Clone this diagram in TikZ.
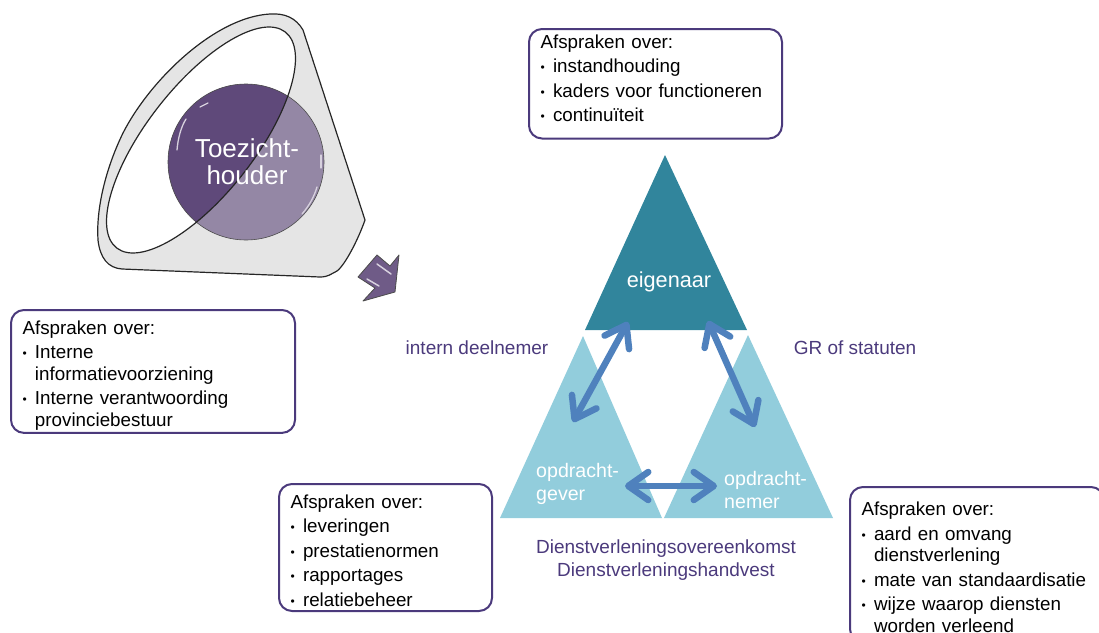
\documentclass[tikz,border=0pt]{standalone}
\usepackage{fontspec}
\setmainfont{Liberation Sans}
\usetikzlibrary{arrows.meta}
\definecolor{paars}{HTML}{5F497A}
\definecolor{lichtpaars}{HTML}{9487A5}
\definecolor{randpaars}{HTML}{4B3A7C}
\definecolor{teal}{HTML}{31859C}
\definecolor{lichtblauw}{HTML}{92CDDC}
\definecolor{pijlblauw}{HTML}{4F81BD}
\newcommand{\punt}{\makebox[12.5pt][l]{\raisebox{1pt}{\fontsize{12}{12}\selectfont\textbullet}}}
\newcommand{\verder}{\hspace*{12.5pt}}
\begin{document}
\begin{tikzpicture}[x=1pt, y=-1pt, line join=round, line cap=round,
    afspraak/.style={draw=randpaars, line width=2pt, fill=white, rounded corners=13pt, anchor=north west,
        align=left, inner xsep=11.5pt, inner ysep=3pt, font=\fontsize{18.8}{21.5}\selectfont},
    driehoektekst/.style={text=white, align=left, anchor=west, inner sep=0pt, font=\fontsize{19.6}{23}\selectfont},
    paarstekst/.style={text=randpaars, align=center, font=\fontsize{19}{23}\selectfont},
    tweepijl/.style={draw=pijlblauw, line width=6.5pt, {Straight Barb[length=20pt,width=28pt,round]}-{Straight Barb[length=20pt,width=28pt,round]}},
    glans/.style={draw=white!75!paars, line width=1.3pt}]
\useasboundingbox (0,0) rectangle (1099,632);
\clip (0,0) rectangle (1099,632);
\def\ellipspad{(201,140) ellipse [x radius=137, y radius=54, rotate=52]}
\coordinate (M) at (246,162);
% trechter
\draw[fill=black!10, line width=1.2pt, draw=black!85] (303,30) .. controls (296,18) and (285,13) .. (270,14)
    .. controls (215,17) and (150,80) .. (123,133)
    .. controls (105,170) and (96,210) .. (98,240)
    .. controls (100,258) and (108,268) .. (122,269)
    -- (320,277) .. controls (328,277) and (331,274) .. (337,271)
    .. controls (345,265) and (358,240) .. (365,220) -- cycle;
\fill[white] \ellipspad;
\fill[lichtpaars] (M) circle (78);
\begin{scope}
\clip \ellipspad;
\fill[paars] (M) circle (78);
\end{scope}
\draw[black!70, line width=.6pt] (M) circle (78);
\draw[black!85, line width=1.2pt] \ellipspad;
\draw[glans] (177,150) .. controls (178,138) and (181,127) .. (186,119);
\draw[glans] (200,107) -- (208,103);
\draw[glans] (302,214) .. controls (309,206) and (314,197) .. (317,187);
\draw[glans] (321,155) -- (321,168);
\node[text=white, align=center, font=\fontsize{26}{27}\selectfont] (toezicht) at (247,162) {Toezicht-\\houder};
% pijl
\filldraw[fill=paars!90!white, draw=black!70, line width=.8pt] (399,255) -- (395,292) -- (363,301) -- (375,288) -- (358,277) -- (377,255) -- (390,266) -- cycle;
\draw[glans, line width=1.5pt] (377,264) -- (391,274);
\draw[glans, line width=1.5pt] (367,279) -- (379,286);
% driehoeken
\coordinate (E1) at (665,155);
\coordinate (E2) at (585,330);
\coordinate (E3) at (747,330);
\coordinate (G1) at (583,336);
\coordinate (G2) at (500,518);
\coordinate (G3) at (662,518);
\coordinate (N1) at (748,335);
\coordinate (N2) at (664,518);
\coordinate (N3) at (833,518);
\fill[teal] (E1) -- (E2) -- (E3) -- cycle;
\fill[lichtblauw] (G1) -- (G2) -- (G3) -- cycle;
\fill[lichtblauw] (N1) -- (N2) -- (N3) -- cycle;
\node[text=white, font=\fontsize{21.7}{25}\selectfont] (eigenaar) at (669,282) {eigenaar};
\node[driehoektekst] (gever) at (536,483.5) {opdracht-\\gever};
\node[driehoektekst] (nemer) at (724,489.5) {opdracht-\\nemer};
% pijlen
\coordinate (P1) at (628,322);
\coordinate (P2) at (573,422);
\coordinate (P3) at (708,321);
\coordinate (P4) at (755,427);
\coordinate (P5) at (625,486);
\coordinate (P6) at (717,486);
\draw[tweepijl] (P1) -- (P2);
\draw[tweepijl] (P3) -- (P4);
\draw[tweepijl] (P5) -- (P6);
% teksten
\node[paarstekst] (intern) at (477,348) {intern deelnemer};
\node[paarstekst] (gr) at (855,348) {GR of statuten};
\node[paarstekst] (dvo) at (666,560.5) {Dienstverleningsovereenkomst\\Dienstverleningshandvest};
% kaders
\node[afspraak, text width=230pt] (kader1) at (528,28) {\rule{0pt}{16pt}Afspraken over:\\[3pt]
    \punt instandhouding\\[3pt] \punt kaders voor functioneren\\[3pt] \punt continuïteit\rule[-14pt]{0pt}{0pt}};
\node[afspraak, text width=261pt] (kader2) at (10,309) {\rule{0pt}{21pt}Afspraken over:\\[3pt]
    \punt Interne\\ \verder informatievoorziening\\[3pt] \punt Interne verantwoording\\ \verder provinciebestuur\rule[-3pt]{0pt}{0pt}};
\node[afspraak, text width=190pt] (kader3) at (278,483) {\rule{0pt}{21pt}Afspraken over:\\[3pt]
    \punt leveringen\\[3pt] \punt prestatienormen\\[3pt] \punt rapportages\\[3pt] \punt relatiebeheer\rule[-2pt]{0pt}{0pt}};
\node[afspraak, text width=231pt] (kader4) at (849,486) {\rule{0pt}{25.5pt}Afspraken over:\\[3pt]
    \punt aard en omvang\\ \verder dienstverlening\\[3pt] \punt mate van standaardisatie\\[3pt] \punt wijze waarop diensten\\ \verder worden verleend\rule[-7pt]{0pt}{0pt}};
\end{tikzpicture}
\end{document}
